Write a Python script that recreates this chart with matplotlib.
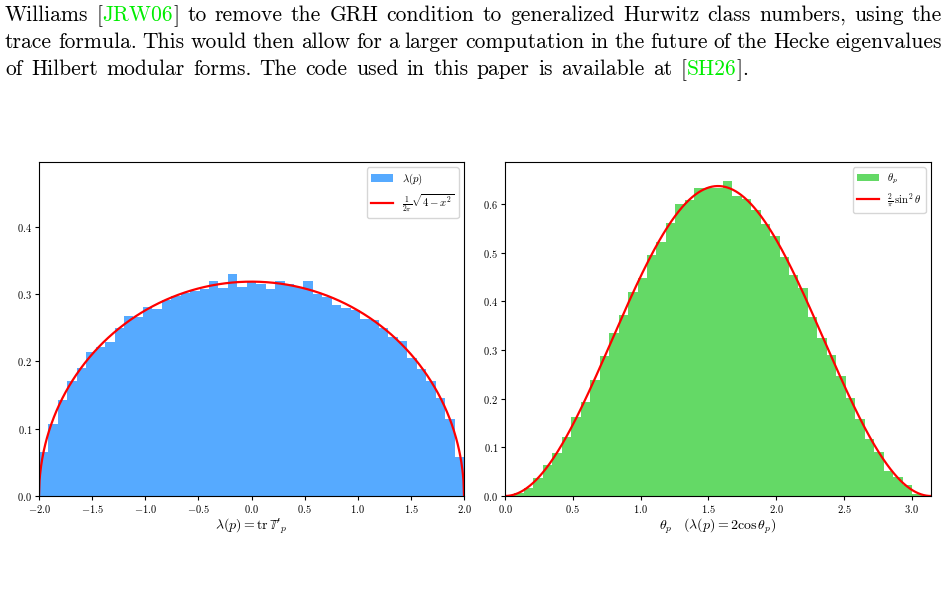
# Sato-Tate histograms for lambda(p) and theta_p, with the paper text above

import numpy as np
import matplotlib
matplotlib.use('Agg')
import matplotlib.pyplot as plt

plt.rcParams['mathtext.fontset'] = 'cm'
plt.rcParams['axes.formatter.use_mathtext'] = True
plt.rcParams['font.family'] = ['cmr10', 'DejaVu Serif']
plt.rcParams['axes.unicode_minus'] = True

# normalised histogram of lambda(p), 45 bins on [-2, 2]
lam_heights = [0.066, 0.107, 0.142, 0.171, 0.190, 0.214, 0.222, 0.229, 0.250,
               0.267, 0.266, 0.280, 0.277, 0.291, 0.297, 0.301, 0.305, 0.308,
               0.320, 0.309, 0.330, 0.310, 0.320, 0.315, 0.308, 0.319, 0.315,
               0.311, 0.319, 0.300, 0.296, 0.283, 0.279, 0.276, 0.263, 0.262,
               0.249, 0.236, 0.230, 0.205, 0.189, 0.171, 0.145, 0.114, 0.058]

# normalised histogram of theta_p, 45 bins on [0, pi]
theta_heights = [0.001, 0.006, 0.016, 0.036, 0.063, 0.089, 0.122, 0.162, 0.193,
                 0.239, 0.288, 0.335, 0.372, 0.419, 0.447, 0.495, 0.521, 0.561,
                 0.600, 0.607, 0.632, 0.632, 0.633, 0.648, 0.617, 0.611, 0.587,
                 0.559, 0.533, 0.490, 0.454, 0.428, 0.368, 0.324, 0.290, 0.247,
                 0.201, 0.159, 0.117, 0.090, 0.051, 0.039, 0.022, 0.005, 0.001]

blue = '#56aaff'
green = '#64d966'
cite_green = '#00ee00'

fig = plt.figure(figsize=(9.47, 5.89), dpi=100)
ax1 = fig.add_axes([39 / 947, 1 - 496 / 589, 425 / 947, 334 / 589])
ax2 = fig.add_axes([505 / 947, 1 - 496 / 589, 426 / 947, 334 / 589])

# left: lambda(p)
edges = np.linspace(-2, 2, len(lam_heights) + 1)
b1 = ax1.bar(edges[:-1], lam_heights, width=np.diff(edges), align='edge',
             color=blue, linewidth=0, label=r'$\lambda(p)$')
x = np.linspace(-2, 2, 800)
l1, = ax1.plot(x, np.sqrt(np.clip(4 - x**2, 0, None)) / (2 * np.pi), color='red',
               lw=1.6, label=r'$\frac{1}{2\pi}\sqrt{4-x^2}$')
ax1.set_xlim(-2, 2)
ax1.set_ylim(0, 0.496)
ax1.set_xticks(np.arange(-2, 2.01, 0.5))
ax1.set_yticks([0.0, 0.1, 0.2, 0.3, 0.4])
ax1.set_xlabel(r"$\lambda(p) = \mathrm{tr}\,\mathbb{T}'_p$", fontsize=10, labelpad=1)
ax1.legend(handles=[b1, l1], loc='upper right', fontsize=7.8)

# right: theta_p
edges = np.linspace(0, np.pi, len(theta_heights) + 1)
b2 = ax2.bar(edges[:-1], theta_heights, width=np.diff(edges), align='edge',
             color=green, linewidth=0, label=r'$\theta_p$')
t = np.linspace(0, np.pi, 800)
l2, = ax2.plot(t, 2 / np.pi * np.sin(t)**2, color='red', lw=1.6,
               label=r'$\frac{2}{\pi}\,\sin^2\theta$')
ax2.set_xlim(0, np.pi)
ax2.set_ylim(0, 0.686)
ax2.set_xticks(np.arange(0, 3.01, 0.5))
ax2.set_yticks([0.0, 0.1, 0.2, 0.3, 0.4, 0.5, 0.6])
ax2.set_xlabel(r'$\theta_p \quad (\lambda(p) = 2\cos\theta_p)$', fontsize=10, labelpad=1)
ax2.legend(handles=[b2, l2], loc='upper right', fontsize=7.8)

for ax in (ax1, ax2):
    ax.tick_params(labelsize=7.5, length=3, pad=2)

# paragraph text above the figure
lines = [
    [[('Williams', 'k')], [('[', 'k'), ('JRW06', cite_green), (']', 'k')], [('to', 'k')],
     [('remove', 'k')], [('the', 'k')], [('GRH', 'k')], [('condition', 'k')], [('to', 'k')],
     [('generalized', 'k')], [('Hurwitz', 'k')], [('class', 'k')], [('numbers,', 'k')],
     [('using', 'k')], [('the', 'k')]],
    [[(w, 'k')] for w in ('trace formula. This would then allow for a larger computation '
                          'in the future of the Hecke eigenvalues').split()],
    [[(w, 'k')] for w in 'of Hilbert modular forms. The code used in this paper is available at'.split()]
    + [[('[', 'k'), ('SH26', cite_green), (']', 'k'), ('.', 'k')]],
]
baselines = [21, 48, 75]
left_px, right_px = 5, 942
line3_end = 748
fsize = 15.5
renderer = fig.canvas.get_renderer()

for i, words in enumerate(lines):
    y = 1 - baselines[i] / 589
    texts = []
    widths = []
    for word in words:
        segs = []
        w_total = 0
        for s, c in word:
            tx = fig.text(0, y, s, color=c, fontsize=fsize, va='baseline', ha='left')
            w = tx.get_window_extent(renderer).width
            segs.append((tx, w))
            w_total += w
        texts.append(segs)
        widths.append(w_total)
    end = right_px if i < 2 else line3_end
    gap = (end - left_px - sum(widths)) / (len(words) - 1)
    xpos = left_px
    for segs, w in zip(texts, widths):
        xs = xpos
        for tx, sw in segs:
            tx.set_x(xs / 947)
            xs += sw
        xpos += w + gap

fig.savefig('out.png', dpi=100)
